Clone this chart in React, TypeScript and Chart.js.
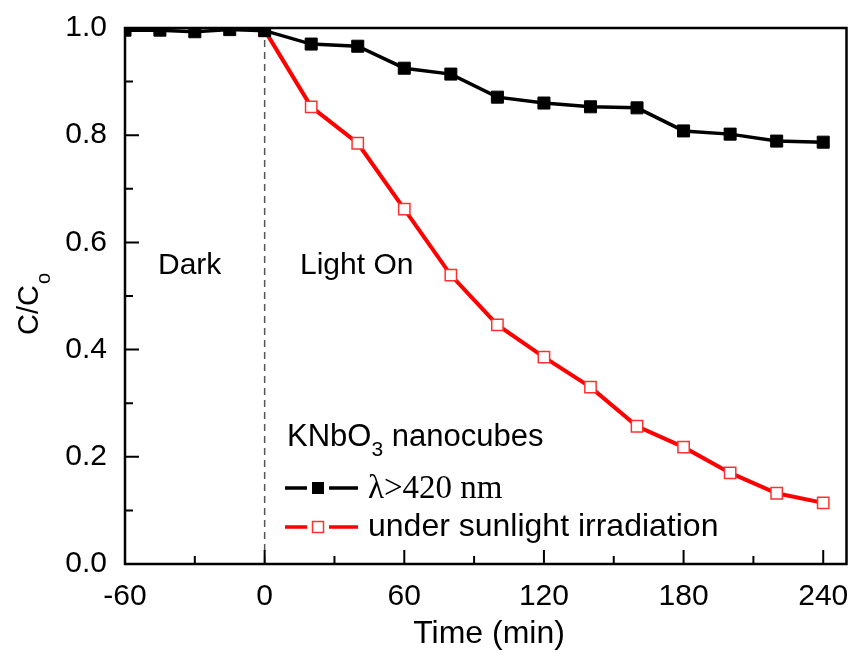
import React, { useEffect, useRef } from "react";
import { Chart, registerables } from "chart.js";

Chart.register(...registerables);

// ---- data ----
const blackTimes = [-60, -45, -30, -15, 0, 20, 40, 60, 80, 100, 120, 140, 160, 180, 200, 220, 240];
const blackValues = [0.996, 0.996, 0.993, 0.997, 0.995, 0.970, 0.966, 0.925, 0.914, 0.871, 0.860, 0.853, 0.851, 0.808, 0.802, 0.789, 0.787];
const redTimes = [0, 20, 40, 60, 80, 100, 120, 140, 160, 180, 200, 220, 240];
const redValues = [0.996, 0.853, 0.785, 0.662, 0.539, 0.446, 0.386, 0.330, 0.257, 0.218, 0.170, 0.132, 0.114];

const xMajorTicks = [-60, 0, 60, 120, 180, 240];
const xMinorTicks = [-30, 30, 90, 150, 210];
const yMajorTicks = [0, 0.2, 0.4, 0.6, 0.8, 1.0];
const yMinorTicks = [0.1, 0.3, 0.5, 0.7, 0.9];

const blackLabel = "λ>420 nm";
const redLabel = "under sunlight irradiation";
const xTitle = "Time (min)";
const darkText = "Dark";
const lightText = "Light On";

const SANS = "'Liberation Sans', Arial, Helvetica, sans-serif";
const SERIF = "'Liberation Serif', 'Times New Roman', serif";

const decorPlugin = {
  id: "decor",
  beforeDatasetsDraw(chart: any) {
    const { ctx, chartArea, scales } = chart;
    const x0 = scales.x.getPixelForValue(0);
    ctx.save();
    ctx.strokeStyle = "#555";
    ctx.lineWidth = 1.5;
    ctx.setLineDash([7, 5]);
    ctx.beginPath();
    ctx.moveTo(x0, chartArea.top);
    ctx.lineTo(x0, chartArea.bottom);
    ctx.stroke();
    ctx.restore();
  },
  afterDraw(chart: any) {
    const { ctx, chartArea, scales } = chart;
    const { left, right, top, bottom } = chartArea;
    const xs = scales.x;
    const ys = scales.y;
    ctx.save();
    // frame
    ctx.strokeStyle = "#000";
    ctx.lineWidth = 2.5;
    ctx.setLineDash([]);
    ctx.strokeRect(left, top, right - left, bottom - top);
    // ticks (inward)
    ctx.lineWidth = 2;
    ctx.beginPath();
    xMajorTicks.forEach((v) => {
      const p = xs.getPixelForValue(v);
      ctx.moveTo(p, bottom);
      ctx.lineTo(p, bottom - 14);
    });
    xMinorTicks.forEach((v) => {
      const p = xs.getPixelForValue(v);
      ctx.moveTo(p, bottom);
      ctx.lineTo(p, bottom - 8);
    });
    yMajorTicks.forEach((v) => {
      const p = ys.getPixelForValue(v);
      ctx.moveTo(left, p);
      ctx.lineTo(left + 14, p);
    });
    yMinorTicks.forEach((v) => {
      const p = ys.getPixelForValue(v);
      ctx.moveTo(left, p);
      ctx.lineTo(left + 8, p);
    });
    ctx.stroke();

    ctx.fillStyle = "#000";
    // annotations
    ctx.font = `30px ${SANS}`;
    ctx.textAlign = "left";
    ctx.textBaseline = "middle";
    ctx.fillText(darkText, 158, 266);
    ctx.fillText(lightText, 300, 266);

    // KNbO3 nanocubes
    ctx.textBaseline = "alphabetic";
    let tx = 287;
    ctx.font = `31px ${SANS}`;
    ctx.fillText("KNbO", tx, 446);
    tx += ctx.measureText("KNbO").width;
    ctx.font = `21px ${SANS}`;
    ctx.fillText("3", tx, 456);
    tx += ctx.measureText("3").width;
    ctx.font = `31px ${SANS}`;
    ctx.fillText(" nanocubes", tx, 446);

    // legend
    const lx1 = 285, lx2 = 358, mx = 318;
    ctx.lineWidth = 3.5;
    ctx.strokeStyle = "#000";
    ctx.beginPath();
    ctx.moveTo(lx1, 488); ctx.lineTo(307, 488);
    ctx.moveTo(329, 488); ctx.lineTo(lx2, 488);
    ctx.stroke();
    ctx.fillRect(mx - 6, 488 - 6, 12, 12);
    ctx.strokeStyle = "#ff0000";
    ctx.beginPath();
    ctx.moveTo(lx1, 527); ctx.lineTo(307, 527);
    ctx.moveTo(329, 527); ctx.lineTo(lx2, 527);
    ctx.stroke();
    ctx.lineWidth = 1.5;
    ctx.strokeStyle = "#ff3030";
    ctx.fillStyle = "#fff";
    ctx.fillRect(mx - 5.5, 527 - 5.5, 11, 11);
    ctx.strokeRect(mx - 5.5, 527 - 5.5, 11, 11);
    ctx.fillStyle = "#000";
    ctx.textBaseline = "middle";
    ctx.font = `33px ${SERIF}`;
    ctx.fillText(blackLabel, 368, 489);
    ctx.font = `32px ${SANS}`;
    ctx.fillText(redLabel, 368, 527);

    // x title
    ctx.textAlign = "center";
    ctx.font = `32px ${SANS}`;
    ctx.fillText(xTitle, 489, 634);

    // y title C/Co
    ctx.save();
    ctx.translate(38, 335);
    ctx.rotate(-Math.PI / 2);
    ctx.textAlign = "left";
    ctx.textBaseline = "alphabetic";
    ctx.font = `29px ${SANS}`;
    ctx.fillText("C/C", 0, 0);
    const w = ctx.measureText("C/C").width;
    ctx.font = `20px ${SANS}`;
    ctx.fillText("o", w + 1, 12);
    ctx.restore();

    ctx.restore();
  },
};

export default function App() {
  const canvasRef = useRef<HTMLCanvasElement | null>(null);

  useEffect(() => {
    const canvas = canvasRef.current;
    if (!canvas) return;
    const chart = new Chart(canvas, {
      type: "line",
      data: {
        datasets: [
          {
            label: blackLabel,
            data: blackTimes.map((t, i) => ({ x: t, y: blackValues[i] })),
            borderColor: "#000",
            backgroundColor: "#000",
            borderWidth: 3.5,
            pointStyle: "rect",
            pointRadius: 8.5,
            pointBorderWidth: 1,
            pointBackgroundColor: "#000",
            pointBorderColor: "#000",
            tension: 0,
          },
          {
            label: redLabel,
            data: redTimes.map((t, i) => ({ x: t, y: redValues[i] })),
            borderColor: "#ff0000",
            backgroundColor: "#fff",
            borderWidth: 4,
            pointStyle: "rect",
            pointRadius: 8,
            pointBorderWidth: 1.5,
            pointBackgroundColor: "#fff",
            pointBorderColor: "#ff3030",
            tension: 0,
          },
        ],
      },
      options: {
        animation: false,
        responsive: true,
        maintainAspectRatio: false,
        layout: { padding: { top: 28, right: 8, left: 0, bottom: 0 } },
        plugins: { legend: { display: false }, tooltip: { enabled: false } },
        scales: {
          x: {
            type: "linear",
            min: -60,
            max: 250,
            afterBuildTicks: (s: any) => {
              s.ticks = xMajorTicks.map((v) => ({ value: v }));
            },
            afterFit: (s: any) => {
              s.height = 94;
              s.paddingLeft = 0;
              s.paddingRight = 0;
            },
            ticks: {
              color: "#000",
              font: { family: SANS, size: 30 },
              padding: 15,
              maxRotation: 0,
              autoSkip: false,
              callback: (v: any) => String(v),
            },
            grid: { display: false, drawTicks: false },
            border: { display: false },
          },
          y: {
            type: "linear",
            min: 0,
            max: 1.0,
            afterBuildTicks: (s: any) => {
              s.ticks = yMajorTicks.map((v) => ({ value: v }));
            },
            afterFit: (s: any) => {
              s.width = 125;
              s.paddingTop = 0;
              s.paddingBottom = 0;
            },
            ticks: {
              color: "#000",
              font: { family: SANS, size: 30 },
              padding: 18,
              autoSkip: false,
              callback: (v: any) => Number(v).toFixed(1),
            },
            grid: { display: false, drawTicks: false },
            border: { display: false },
          },
        },
      },
      plugins: [decorPlugin],
    });
    return () => chart.destroy();
  }, []);

  return (
    <div style={{ position: "fixed", left: 0, top: 0, width: 856, height: 658, background: "#fff" }}>
      <canvas ref={canvasRef} />
    </div>
  );
}
